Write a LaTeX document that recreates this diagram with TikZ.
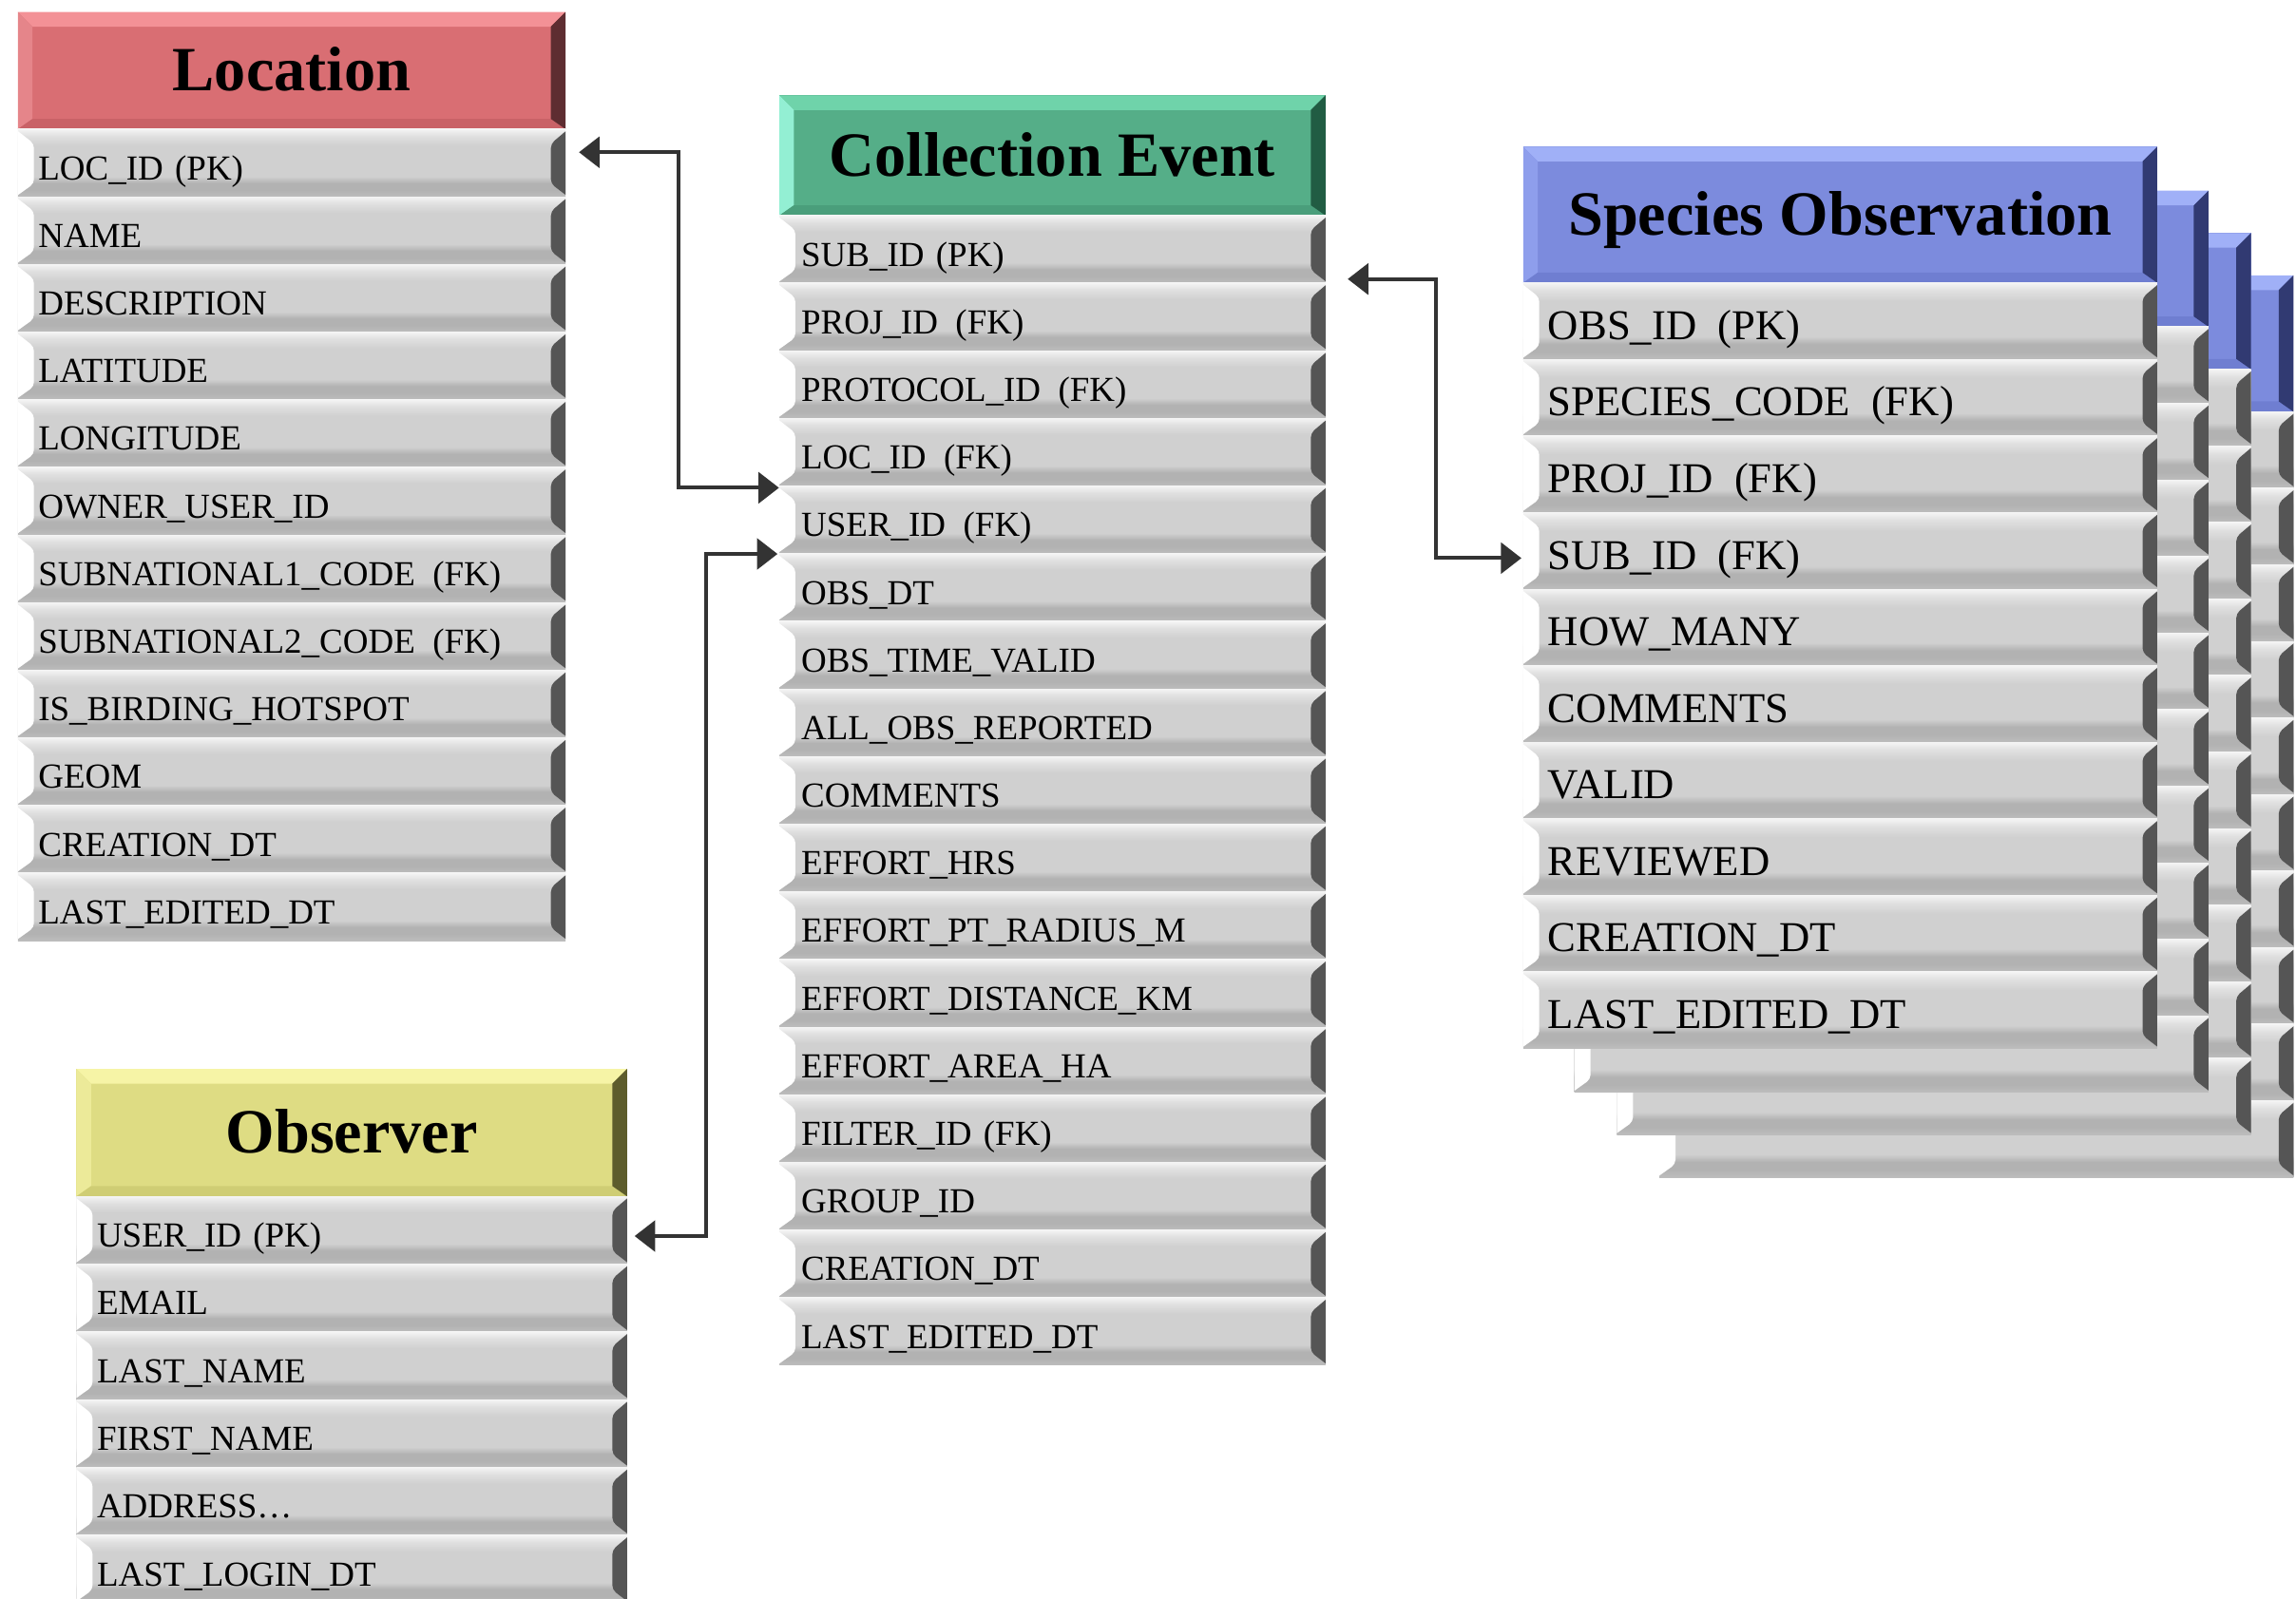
\documentclass[tikz,border=0pt]{standalone}
\usepackage{fontspec}
\setmainfont{Liberation Serif}
\usetikzlibrary{arrows.meta,calc}

\definecolor{rowTop}{HTML}{F4F4F4}
\definecolor{rowLight}{HTML}{E0E0E0}
\definecolor{rowMid}{HTML}{D0D0D0}
\definecolor{rowDark}{HTML}{B2B2B2}
\definecolor{rowBot}{HTML}{BDBDBD}
\definecolor{rowR}{HTML}{555555}

\definecolor{locT}{HTML}{F39196}\definecolor{locL}{HTML}{E5858A}\definecolor{locC}{HTML}{D96E73}\definecolor{locB}{HTML}{C96267}\definecolor{locR}{HTML}{5E2D31}
\definecolor{ceT}{HTML}{6FD3AA}\definecolor{ceL}{HTML}{93EFD3}\definecolor{ceC}{HTML}{55AE88}\definecolor{ceB}{HTML}{4A9E7B}\definecolor{ceR}{HTML}{215C43}
\definecolor{soT}{HTML}{A0B0F7}\definecolor{soL}{HTML}{8E9EEC}\definecolor{soC}{HTML}{7C8BDD}\definecolor{soB}{HTML}{6F7ED1}\definecolor{soR}{HTML}{313A72}
\definecolor{obT}{HTML}{F6F4A6}\definecolor{obL}{HTML}{ECEA99}\definecolor{obC}{HTML}{DEDC83}\definecolor{obB}{HTML}{CFCD74}\definecolor{obR}{HTML}{5D5C2C}

\pgfdeclareverticalshading{rowshade}{100bp}{color(0bp)=(rowBot); color(25bp)=(rowBot); color(30bp)=(rowDark); color(35bp)=(rowDark); color(40bp)=(rowMid); color(63bp)=(rowMid); color(70bp)=(rowLight); color(75bp)=(rowTop); color(100bp)=(rowTop)}

\newcommand\rowfont{\fontsize{24}{24}\selectfont}
\newcommand\bigrowfont{\fontsize{29}{29}\selectfont}
\newcommand\titlefont{\fontsize{43}{43}\selectfont\bfseries}

\tikzset{
  hdr/.style={anchor=north west, inner sep=0pt, fill=#1C, font=\titlefont,
    text height=31pt, text depth=3pt,
    path picture={
      \fill[#1T] (path picture bounding box.north west) -- (path picture bounding box.north east)
        -- ([xshift=-10pt,yshift=-10pt]path picture bounding box.north east)
        -- ([xshift=10pt,yshift=-10pt]path picture bounding box.north west) -- cycle;
      \fill[#1L] (path picture bounding box.north west) -- ([xshift=10pt,yshift=-10pt]path picture bounding box.north west)
        -- ([xshift=10pt,yshift=7pt]path picture bounding box.south west) -- (path picture bounding box.south west) -- cycle;
      \fill[#1B] (path picture bounding box.south west) -- ([xshift=10pt,yshift=7pt]path picture bounding box.south west)
        -- ([xshift=-10pt,yshift=7pt]path picture bounding box.south east) -- (path picture bounding box.south east) -- cycle;
      \fill[#1R] (path picture bounding box.north east) -- ([xshift=-10pt,yshift=-10pt]path picture bounding box.north east)
        -- ([xshift=-10pt,yshift=7pt]path picture bounding box.south east) -- (path picture bounding box.south east) -- cycle;
    }},
  rowcell/.style={anchor=north west, inner ysep=0pt, inner xsep=#1, fill=rowMid, align=left,
    path picture={
      \shade[shading=rowshade] (path picture bounding box.south west) rectangle (path picture bounding box.north east);
      \fill[white, rounded corners=3pt] ([xshift=-3pt,yshift=1pt]path picture bounding box.north west)
        -- ([xshift=11pt,yshift=-10pt]path picture bounding box.north west)
        -- ([xshift=11pt,yshift=9pt]path picture bounding box.south west)
        -- ([xshift=-3pt,yshift=-1pt]path picture bounding box.south west) -- cycle;
      \fill[rowR, rounded corners=3pt] ([xshift=3pt,yshift=1pt]path picture bounding box.north east)
        -- ([xshift=-10pt,yshift=-10pt]path picture bounding box.north east)
        -- ([xshift=-10pt,yshift=9pt]path picture bounding box.south east)
        -- ([xshift=3pt,yshift=-1pt]path picture bounding box.south east) -- cycle;
    }},
  smallrow/.style={font=\rowfont, text height=25pt, text depth=2pt},
  bigrow/.style={font=\bigrowfont, text height=27pt, text depth=2pt},
  conn/.style={{Triangle[length=14pt,width=21pt]}-{Triangle[length=14pt,width=21pt]}, line width=2.6pt, draw=black!80},
}

\begin{document}
\begin{tikzpicture}[x=1pt,y=-1pt]
\useasboundingbox (0,0) rectangle (1568,1092);
\clip (0,0) rectangle (1568,1092);

% stacked copies of Species Observation (back to front)
\foreach \dx/\dy/\k in {93/88/3, 64/59/2, 35/30/1} {
  \node[hdr=so, minimum width=433pt, minimum height=93pt] (SOc\k) at ({1040+\dx},{100+\dy}) {};
  \foreach \i in {1,...,10}
    \node[rowcell=17pt, bigrow, minimum width=433pt, text width=399pt, minimum height=52.3pt]
      (SOc\k-\i) at ({1040+\dx},{193+\dy+52.3*(\i-1)}) {};
}

% Species Observation
\node[hdr=so, minimum width=433pt, minimum height=93pt] (SO) at (1040,100) {Species Observation};
\foreach \t [count=\i] in {OBS\_ID\enspace(PK), SPECIES\_CODE\enspace(FK), PROJ\_ID\enspace(FK), SUB\_ID\enspace(FK), HOW\_MANY, COMMENTS, VALID, REVIEWED, CREATION\_DT, LAST\_EDITED\_DT}
  \node[rowcell=17pt, bigrow, minimum width=433pt, text width=399pt, minimum height=52.3pt]
    (SO-\i) at (1040,{193+52.3*(\i-1)}) {\t};

% Location
\node[hdr=loc, minimum width=374pt, minimum height=80pt] (L) at (12,8) {Location};
\foreach \t [count=\i] in {LOC\_ID (PK), NAME, DESCRIPTION, LATITUDE, LONGITUDE, OWNER\_USER\_ID, SUBNATIONAL1\_CODE\enspace(FK), SUBNATIONAL2\_CODE\enspace(FK), IS\_BIRDING\_HOTSPOT, GEOM, CREATION\_DT, LAST\_EDITED\_DT}
  \node[rowcell=14pt, smallrow, minimum width=374pt, text width=346pt, minimum height=46.2pt]
    (L-\i) at (12,{88+46.2*(\i-1)}) {\t};

% Collection Event
\node[hdr=ce, minimum width=373pt, minimum height=82pt] (CE) at (532,65) {Collection Event};
\foreach \t [count=\i] in {SUB\_ID (PK), PROJ\_ID\enspace(FK), PROTOCOL\_ID\enspace(FK), LOC\_ID\enspace(FK), USER\_ID\enspace(FK), OBS\_DT, OBS\_TIME\_VALID, ALL\_OBS\_REPORTED, COMMENTS, EFFORT\_HRS, EFFORT\_PT\_RADIUS\_M, EFFORT\_DISTANCE\_KM, EFFORT\_AREA\_HA, FILTER\_ID (FK), GROUP\_ID, CREATION\_DT, LAST\_EDITED\_DT}
  \node[rowcell=15pt, smallrow, minimum width=373pt, text width=343pt, minimum height=46.2pt]
    (CE-\i) at (532,{147+46.2*(\i-1)}) {\t};

% Observer
\node[hdr=ob, minimum width=376pt, minimum height=87pt] (OB) at (52,730) {Observer};
\foreach \t [count=\i] in {USER\_ID (PK), EMAIL, LAST\_NAME, FIRST\_NAME, ADDRESS…, LAST\_LOGIN\_DT}
  \node[rowcell=14pt, smallrow, minimum width=376pt, text width=348pt, minimum height=46.3pt]
    (OB-\i) at (52,{817+46.3*(\i-1)}) {\t};

% connectors
\draw[conn] ([xshift=9pt,yshift=-16pt]L-1.north east) -- ++(68,0) |- ([yshift=-1pt]CE-4.south west);
\draw[conn] ([xshift=5pt,yshift=-4pt]OB-1.east) -- ++(49,0) |- ([xshift=-1pt]CE-5.south west);
\draw[conn] ([xshift=15pt,yshift=3pt]CE-1.south east) -- ++(60,0) |- ([xshift=-1pt,yshift=-5pt]SO-4.west);
\end{tikzpicture}
\end{document}
